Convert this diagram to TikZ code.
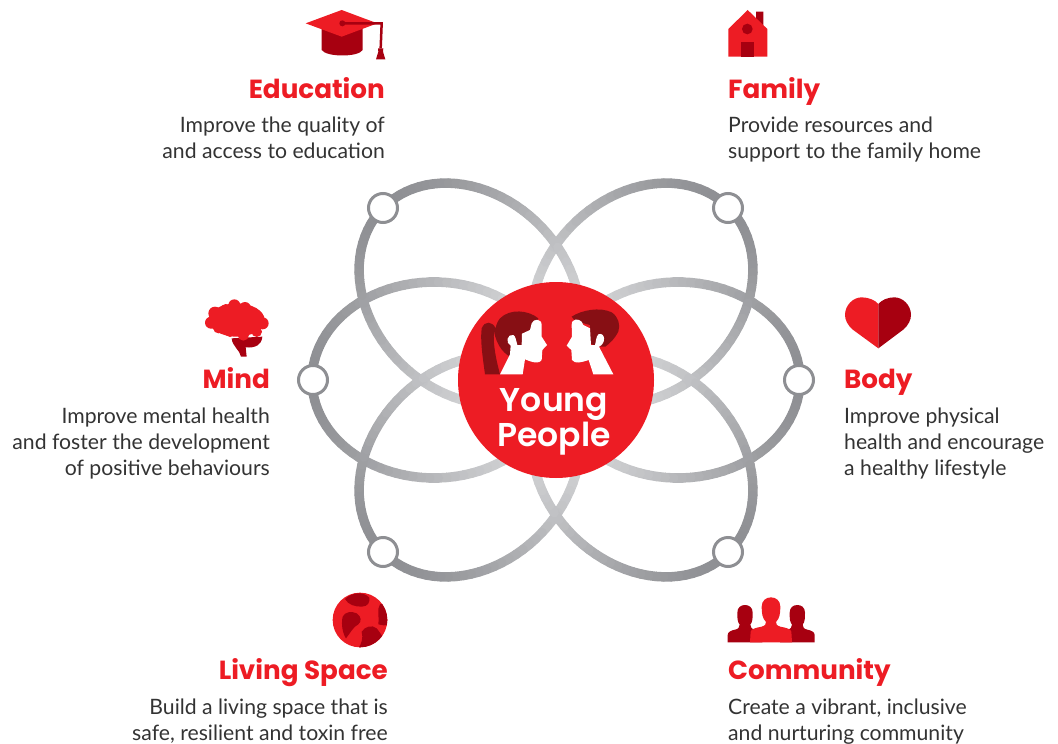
\documentclass[tikz,border=0pt]{standalone}
\usepackage{fontspec}
\setmainfont{Lato}
\newfontfamily\headfont{Poppins Bold}
\newfontfamily\youngfont{Poppins SemiBold}
\definecolor{brandred}{HTML}{ED1C24}
\definecolor{branddark}{HTML}{A70010}
\definecolor{hairdark}{HTML}{870F14}
\definecolor{ringdark}{HTML}{8E8F93}
\definecolor{ringlight}{HTML}{D2D3D5}
\tikzset{
  bodytext/.style={inner sep=0pt,font=\fontsize{21.2}{26}\selectfont,text=black!80},
  titletext/.style={inner sep=0pt,font=\headfont\fontsize{26.2}{30}\selectfont,text=brandred},
  ringnode/.style={circle,draw=ringdark,fill=white,line width=3pt,minimum size=29pt,inner sep=0pt}
}
\newcommand{\drawpetal}[1]{%
\begin{scope}[shift={(556,380)},rotate=#1]
\foreach \t in {0,4,...,356}{
  \pgfmathsetmacro\ua{122+122*cos(\t)}\pgfmathsetmacro\va{98*sin(\t)}
  \pgfmathsetmacro\ub{122+122*cos(\t+4)}\pgfmathsetmacro\vb{98*sin(\t+4)}
  \pgfmathtruncatemacro\p{max(0,min(100,(\ua-40)/2.04))}
  \draw[line width=9.5pt,line cap=round,color=ringdark!\p!ringlight] (\ua,\va) -- (\ub,\vb);
}
\end{scope}}
\begin{document}
\begin{tikzpicture}[x=1pt,y=-1pt]
\useasboundingbox (0,0) rectangle (1058,744);
\drawpetal{0}
\drawpetal{180}
\drawpetal{45}
\drawpetal{135}
\drawpetal{225}
\drawpetal{315}
\node[ringnode] (n1) at (383,208) {};
\node[ringnode] (n2) at (728,208) {};
\node[ringnode] (n3) at (313,380) {};
\node[ringnode] (n4) at (799,380) {};
\node[ringnode] (n5) at (383,552) {};
\node[ringnode] (n6) at (728,552) {};
\fill[brandred] (556,380) circle (98);
% Young people
\begin{scope}[shift={(450,275)},scale=1/3]
\fill[hairdark] (265,130) .. controls (235,105) and (180,100) .. (150,130) .. controls (142,140) and (138,152) .. (137,160) .. controls (128,140) and (105,135) .. (95,160) .. controls (90,200) and (100,260) .. (105,298) -- (150,298) .. controls (140,260) and (128,210) .. (132,168) .. controls (140,215) and (165,240) .. (190,250) -- (250,170) -- cycle;
\fill[white] (150,298) -- (180,238) -- (182,212) .. controls (165,205) and (172,175) .. (190,180) .. controls (196,182) and (198,195) .. (202,210) -- (215,210) -- (216,176) -- (240,165) -- (245,145) .. controls (250,130) and (275,130) .. (275,150) -- (275,185) -- (291,210) -- (277,225) -- (275,255) .. controls (270,268) and (245,262) .. (225,253) -- (218,298) -- cycle;
\fill[hairdark] (365,125) .. controls (395,105) and (450,95) .. (485,112) .. controls (505,125) and (512,150) .. (505,170) .. controls (495,190) and (480,205) .. (466,215) -- (440,215) -- (420,205) -- (420,150) -- (375,138) -- cycle;
\fill[white] (490,298) -- (447,215) .. controls (470,205) and (465,170) .. (445,178) .. controls (438,185) and (438,200) .. (435,210) -- (423,210) -- (420,160) -- (400,150) -- (395,140) .. controls (385,130) and (365,130) .. (365,150) -- (366,185) -- (350,212) -- (364,225) -- (366,255) .. controls (375,268) and (395,262) .. (416,255) -- (430,298) -- cycle;
\end{scope}
\node[inner sep=0pt,text=white,font=\youngfont\fontsize{33}{34.5}\selectfont,align=center] (center) at (554,422) {Young\\People};
% Education icon
\begin{scope}[shift={(290,0)},scale=1/3]
\fill[branddark] (95,80) -- (95,150) .. controls (110,172) and (205,172) .. (218,150) -- (218,80) -- cycle;
\fill[brandred] (47,70) -- (155,30) -- (262,70) -- (155,110) -- cycle;
\fill[branddark] (157,70) circle (9);
\draw[branddark,line width=2.5pt] (157,70) -- (275,70) -- (272,145);
\fill[branddark] (258,178) -- (265,155) -- (264,145) -- (280,145) -- (279,155) -- (286,178) -- cycle;
\end{scope}
% Family icon
\begin{scope}[shift={(715,0)},scale=1/3]
\fill[branddark] (123,35) -- (145,35) -- (145,80) -- (123,60) -- cycle;
\fill[brandred] (98,30) -- (157,87) -- (157,170) -- (40,170) -- (40,87) -- cycle;
\fill[branddark] (97,87) circle (16);
\fill[branddark] (78,126) rectangle (117,170);
\end{scope}
% Body icon
\begin{scope}[shift={(835,290)},scale=1/3]
\fill[brandred] (130,175) -- (52,118) .. controls (38,105) and (30,90) .. (30,75) .. controls (30,45) and (55,22) .. (80,22) .. controls (100,22) and (120,30) .. (130,42) -- cycle;
\fill[branddark] (130,175) -- (206,118) .. controls (220,105) and (228,90) .. (228,75) .. controls (228,45) and (203,22) .. (178,22) .. controls (158,22) and (140,30) .. (130,42) -- cycle;
\end{scope}
% Mind icon
\begin{scope}[shift={(195,290)},scale=1/3]
\fill[branddark] (110,145) .. controls (112,170) and (135,180) .. (138,200) -- (155,200) -- (152,172) .. controls (180,175) and (200,165) .. (202,140) -- cycle;
\fill[brandred] (125,90) ellipse (84 and 50);
\foreach \cx/\cy/\r in {60/70/20,48/98/18,70/115/15,92/58/16,118/46/18,150/54/18,178/72/16,203/100/18,185/125/16,145/135/17,105/125/16}{
  \fill[brandred] (\cx,\cy) circle (\r);
}
\end{scope}
% Living Space icon
\begin{scope}[shift={(320,585)},scale=1/3]
\fill[brandred] (120,105) circle (82);
\begin{scope}
\clip (120,105) circle (82);
\fill[branddark] (75,42) .. controls (95,22) and (130,18) .. (148,38) .. controls (150,50) and (145,65) .. (125,65) .. controls (105,65) and (85,60) .. (75,42) -- cycle;
\fill[branddark] (180,58) .. controls (170,75) and (178,90) .. (175,118) .. controls (185,122) and (195,122) .. (210,118) -- (210,50) -- cycle;
\fill[branddark] (68,95) .. controls (75,80) and (95,78) .. (110,85) .. controls (125,95) and (125,110) .. (115,118) .. controls (100,125) and (90,145) .. (78,160) .. controls (70,150) and (62,120) .. (68,95) -- cycle;
\fill[branddark] (125,140) .. controls (135,125) and (155,118) .. (170,130) .. controls (178,140) and (185,150) .. (190,160) -- (150,200) -- (115,190) .. controls (125,175) and (130,160) .. (125,140) -- cycle;
\end{scope}
\end{scope}
% Community icon
\begin{scope}[shift={(715,590)},scale=1/3]
\foreach \cx in {90,247}{
  \fill[branddark] (\cx-52,157) -- (\cx-52,135) .. controls (\cx-52,125) and (\cx-40,121) .. (\cx-30,119) .. controls (\cx-20,117) and (\cx-16,112) .. (\cx-16,104) .. controls (\cx-23,95) and (\cx-23,85) .. (\cx-23,68) .. controls (\cx-23,52) and (\cx-12,45) .. (\cx,45) .. controls (\cx+12,45) and (\cx+23,52) .. (\cx+23,68) .. controls (\cx+23,85) and (\cx+23,95) .. (\cx+16,104) .. controls (\cx+16,112) and (\cx+20,117) .. (\cx+30,119) .. controls (\cx+40,121) and (\cx+52,125) .. (\cx+52,135) -- (\cx+52,157) -- cycle;
}
\fill[brandred] (105,157) -- (107,125) .. controls (108,116) and (125,113) .. (140,110) .. controls (150,107) and (154,102) .. (153,96) .. controls (142,85) and (140,70) .. (140,50) .. controls (140,32) and (153,22) .. (168,22) .. controls (183,22) and (196,32) .. (196,50) .. controls (196,70) and (194,85) .. (183,96) .. controls (182,102) and (186,107) .. (196,110) .. controls (211,113) and (228,116) .. (229,125) -- (231,157) -- cycle;
\end{scope}
% Texts
\node[titletext,anchor=base east] (t1) at (385,98.5) {Education};
\node[bodytext,anchor=north east,align=right] (b1) at (385,116.5) {Improve the quality of\\and access to education};
\node[titletext,anchor=base west] (t2) at (728,98.5) {Family};
\node[bodytext,anchor=north west,align=left] (b2) at (728,116.5) {Provide resources and\\support to the family home};
\node[titletext,anchor=base east] (t3) at (270,388.5) {Mind};
\node[bodytext,anchor=north east,align=right] (b3) at (270,407.5) {Improve mental health\\and foster the development\\of positive behaviours};
\node[titletext,anchor=base west] (t4) at (844,388.5) {Body};
\node[bodytext,anchor=north west,align=left] (b4) at (844,407.5) {Improve physical\\health and encourage\\a healthy lifestyle};
\node[titletext,anchor=base east] (t5) at (388,679.5) {Living Space};
\node[bodytext,anchor=north east,align=right] (b5) at (388,698.5) {Build a living space that is\\safe, resilient and toxin free};
\node[titletext,anchor=base west] (t6) at (728,679.5) {Community};
\node[bodytext,anchor=north west,align=left] (b6) at (728,698.5) {Create a vibrant, inclusive\\and nurturing community};
\end{tikzpicture}
\end{document}
